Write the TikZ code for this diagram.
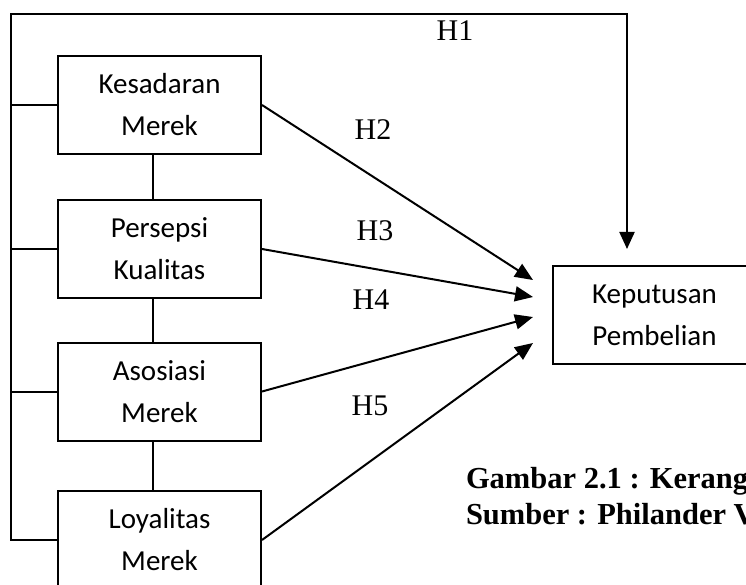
\documentclass[tikz,border=0pt]{standalone}
\usepackage{fontspec}
\setmainfont{Liberation Serif}
\newfontfamily\calibri{Carlito}
\usetikzlibrary{arrows.meta}
\begin{document}
\begin{tikzpicture}[x=1pt,y=-1pt,line width=2pt,
    box/.style={draw, minimum width=203pt, minimum height=98pt, align=center,
      font=\calibri\fontsize{29}{42}\selectfont},
    arr/.style={-{Triangle[length=18pt,width=15pt]}},
    hlab/.style={font=\fontsize{30}{34}\selectfont}]
    \useasboundingbox (0,0) rectangle (746,585);
    % dimensions of brand equity
    \foreach \txt/\yy [count=\i] in {{Kesadaran\\Merek}/105, {Persepsi\\Kualitas}/249,
        {Asosiasi\\Merek}/391.5, {Loyalitas\\Merek}/540}{
      \node[box] (b\i) at (159.5,\yy) {\txt};
    }
    \node[box] (kp) at (654.5,315) {Keputusan\\Pembelian};
    \foreach \i/\j in {1/2,2/3,3/4}{
      \draw ([xshift=-6.5pt]b\i.south) -- ([xshift=-6.5pt]b\j.north);
    }
    % simultaneous path H1
    \coordinate (fr) at (11,14);
    \coordinate (e0) at (627,249);
    \draw[-{Triangle[length=17pt,width=15pt]}] (b4.west) -| (fr) -| (e0);
    \foreach \i in {1,2,3}{
      \draw (b\i.west) -- (b\i.west -| fr);
    }
    % partial paths H2..H5
    \foreach \i/\yy in {1/280,2/297,3/317,4/343}{
      \coordinate (e\i) at (533,\yy);
      \draw[arr] (b\i.east) -- (e\i);
    }
    \foreach \lab/\xx/\yy in {H1/455/31,H2/373/130,H3/375/231,H4/371/300,H5/370/406}{
      \node[hlab] (\lab) at (\xx,\yy) {\lab};
    }
    \node[anchor=west, align=left, inner sep=0pt,
      font=\bfseries\fontsize{30.5}{36}\selectfont] (cap)
      at (465,496) {Gambar 2.1 : Kerang\\Sumber : Philander V};
  \end{tikzpicture}
\end{document}
